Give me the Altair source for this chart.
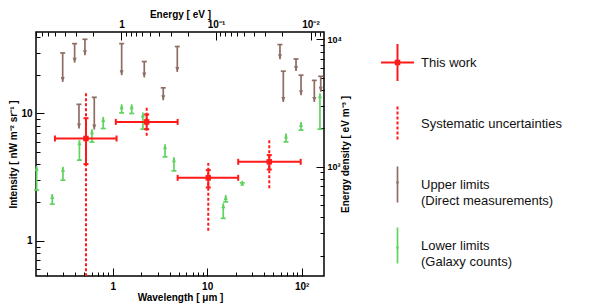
import json
import altair as alt
import pandas as pd

FONT = "Liberation Sans"
HC_EV_UM = 1.23984      # E[eV] * lambda[um]
U_PER_I = 261.62        # eV m^-3 per nW m^-2 sr^-1

RED = "#ff1a1a"
BROWN = "#8d6e63"
GREEN = "#5fd35f"

# ---------------- data ----------------
# This work
tw_wl = [0.522, 2.29, 10.27, 45.4]
tw_wl_lo = [0.245, 1.08, 4.87, 21.3]
tw_wl_hi = [1.10, 4.87, 21.3, 97.6]
tw_i = [6.36, 8.59, 3.12, 4.17]
tw_stat_lo = [4.0, 7.53, 2.62, 3.63]
tw_stat_hi = [9.18, 9.82, 3.59, 4.71]
tw_sys_lo = [0.4, 6.67, 1.20, 2.58]
tw_sys_hi = [14.4, 11.27, 4.09, 6.17]

# Upper limits (direct measurements)
ul_wl = [0.296, 0.396, 0.509, 1.245, 2.16, 3.43, 4.83, 0.440, 0.639,
         58.9, 63.9, 87.1, 98.4, 136, 159]
ul_val = [29.9, 35.4, 38.3, 35.4, 25.6, 15.9, 33.6, 11.8, 13.4,
          34.8, 21.5, 26.8, 20.0, 18.2, 19.6]
ul_tip = [17.7, 25.1, 28.7, 20.0, 19.2, 12.7, 21.2, 7.62, 7.48,
          26.7, 12.3, 21.6, 13.9, 12.3, 14.8]

# Lower limits (galaxy counts)
ll_wl = [1.245, 1.59, 2.09, 0.795, 0.604, 0.445, 0.157, 0.2296, 0.298,
         3.58, 4.45, 14.8, 15.7, 23.5, 68.2, 98.4, 156]
ll_val = [10.1, 10.0, 7.53, 7.62, 5.96, 4.3, 2.5, 1.94, 2.99,
          4.56, 3.54, 1.5, 2.02, 2.85, 5.98, 7.4, 7.53]
ll_tip = [11.8, 11.8, 10.2, 9.4, 7.53, 6.17, 3.86, 2.33, 3.81,
          5.74, 4.52, 1.97, 2.29, 2.96, 6.97, 8.59, 14.4]

# axes
x_domain = [0.1545, 172.2]
y_domain = [0.528, 43.7]
x_major = [1, 10, 100]
x_major_labels = ["1", "10", "10²"]
x_minor = [0.2, 0.3, 0.4, 0.5, 0.6, 0.7, 0.8, 0.9,
           2, 3, 4, 5, 6, 7, 8, 9, 20, 30, 40, 50, 60, 70, 80, 90]
e_major = [1, 0.1, 0.01]
e_major_labels = ["1", "10⁻¹", "10⁻²"]
e_minor = [8, 7, 6, 5, 4, 3, 2, 0.9, 0.8, 0.7, 0.6, 0.5, 0.4, 0.3, 0.2,
           0.09, 0.08, 0.07, 0.06, 0.05, 0.04, 0.03, 0.02, 0.009, 0.008]
y_major = [1, 10]
y_major_labels = ["1", "10"]
y_minor = [0.6, 0.7, 0.8, 0.9, 2, 3, 4, 5, 6, 7, 8, 9, 20, 30, 40]
u_major = [1000, 10000]
u_major_labels = ["10³", "10⁴"]
u_minor = [200, 300, 400, 500, 600, 700, 800, 900,
           2000, 3000, 4000, 5000, 6000, 7000, 8000, 9000]

legend_labels = ["This work", "Systematic uncertainties",
                 "Upper limits\n(Direct measurements)",
                 "Lower limits\n(Galaxy counts)"]

# ---------------- frames ----------------
tw = pd.DataFrame(dict(wl=tw_wl, lo=tw_wl_lo, hi=tw_wl_hi, i=tw_i,
                       slo=tw_stat_lo, shi=tw_stat_hi,
                       ylo=tw_sys_lo, yhi=tw_sys_hi))
ul = pd.DataFrame(dict(wl=ul_wl, val=ul_val, tip=ul_tip))
ll = pd.DataFrame(dict(wl=ll_wl, val=ll_val, tip=ll_tip))

xs = alt.Scale(type="log", domain=x_domain, nice=False)
ys = alt.Scale(type="log", domain=y_domain, nice=False)

e_major_wl = [HC_EV_UM / e for e in e_major]
e_minor_wl = [HC_EV_UM / e for e in e_minor]
u_major_i = [u / U_PER_I for u in u_major]
u_minor_i = [u / U_PER_I for u in u_minor]


def lab_expr(vals, labels):
    return (json.dumps(labels, ensure_ascii=False) + "[indexof("
            + json.dumps(vals) + ", datum.value)]")


common = dict(domain=False, grid=False, tickColor="black", tickWidth=1,
              labelColor="black", labelFont=FONT,
              labelFontWeight="bold", titleFont=FONT, titleFontSize=10,
              titleFontWeight="bold", titleColor="black")


def major(orient, vals, labels, title, lp, tp, lfs=10, **kw):
    return alt.Axis(orient=orient, values=vals, labelExpr=lab_expr(vals, labels),
                    tickSize=8, offset=-8, labelPadding=lp, title=title,
                    titlePadding=tp, labelFontSize=lfs, **common, **kw)


def minor(orient, vals):
    return alt.Axis(orient=orient, values=vals, labels=False, tickSize=4,
                    offset=-4, title=None, labelFontSize=10, **common)


def axis_layer(xa, ya):
    return alt.Chart(tw).mark_point(opacity=0).encode(
        x=alt.X("wl:Q", scale=xs, axis=xa),
        y=alt.Y("i:Q", scale=ys, axis=ya))


ax1 = axis_layer(
    major("bottom", x_major, x_major_labels, "Wavelength  [ μm ]", 5, 1),
    major("left", y_major, y_major_labels, "Intensity  [ nW m⁻² sr⁻¹ ]", 4, 2))
ax2 = axis_layer(minor("bottom", x_minor), minor("left", y_minor))
ax3 = axis_layer(
    major("top", e_major_wl, e_major_labels, "Energy [ eV ]", 3, 0),
    major("right", u_major_i, u_major_labels, "Energy density  [ eV m⁻³ ]", 3, 9,
          lfs=9, titleAngle=270))
ax4 = axis_layer(minor("top", e_minor_wl), minor("right", u_minor_i))


def X(f):
    return alt.X(f"{f}:Q", scale=xs, axis=None)


def Y(f):
    return alt.Y(f"{f}:Q", scale=ys, axis=None)


# upper limits
ul_rule = alt.Chart(ul).mark_rule(color=BROWN, strokeWidth=1.7).encode(
    x=X("wl"), y=Y("val"), y2="tip")
ul_cap = alt.Chart(ul).mark_point(shape="stroke", size=25, color=BROWN,
                                  strokeWidth=1.7, opacity=1).encode(x=X("wl"), y=Y("val"))
ul_head = alt.Chart(ul).mark_point(shape="M-1,-2.5L1,-2.5L0,0Z", size=16, filled=True,
                                   color=BROWN, opacity=1).encode(x=X("wl"), y=Y("tip"))

# lower limits
ll_rule = alt.Chart(ll).mark_rule(color=GREEN, strokeWidth=1.7).encode(
    x=X("wl"), y=Y("val"), y2="tip")
ll_cap = alt.Chart(ll).mark_point(shape="stroke", size=25, color=GREEN,
                                  strokeWidth=1.7, opacity=1).encode(x=X("wl"), y=Y("val"))
ll_head = alt.Chart(ll).mark_point(shape="M-1,2.5L1,2.5L0,0Z", size=16, filled=True,
                                   color=GREEN, opacity=1).encode(x=X("wl"), y=Y("tip"))

# this work
tw_sys = alt.Chart(tw).mark_rule(color=RED, strokeWidth=2, strokeDash=[3, 2],
                                 clip=True).encode(x=X("wl"), y=Y("ylo"), y2="yhi")
tw_stat = alt.Chart(tw).mark_rule(color=RED, strokeWidth=2).encode(
    x=X("wl"), y=Y("slo"), y2="shi")
tw_h = alt.Chart(tw).mark_rule(color=RED, strokeWidth=2).encode(
    x=X("lo"), x2="hi", y=Y("i"))
vcap = dict(shape="M0,-1L0,1", size=36, color=RED, strokeWidth=2, opacity=1)
hcap = dict(shape="stroke", size=25, color=RED, strokeWidth=2, opacity=1)
tw_c1 = alt.Chart(tw).mark_point(**vcap).encode(x=X("lo"), y=Y("i"))
tw_c2 = alt.Chart(tw).mark_point(**vcap).encode(x=X("hi"), y=Y("i"))
tw_c3 = alt.Chart(tw).mark_point(**hcap).encode(x=X("wl"), y=Y("slo"))
tw_c4 = alt.Chart(tw).mark_point(**hcap).encode(x=X("wl"), y=Y("shi"))
tw_sq = alt.Chart(tw).mark_square(size=30, color=RED, opacity=1).encode(x=X("wl"), y=Y("i"))

main = alt.layer(
    ax1, ax2, ax3, ax4,
    ul_rule, ul_cap, ul_head,
    ll_rule, ll_cap, ll_head,
    tw_sys, tw_stat, tw_h, tw_c1, tw_c2, tw_c3, tw_c4, tw_sq,
).resolve_axis(x="independent", y="independent").properties(
    width=288, height=244,
    view=alt.ViewBackground(stroke="black", strokeWidth=1.5))

# ---------------- legend ----------------
leg = pd.DataFrame(dict(label=legend_labels, idx=list(range(len(legend_labels)))))
ly = alt.Y("idx:Q", scale=alt.Scale(domain=[-0.5, 3.5], reverse=True), axis=None)
base = alt.Chart(leg)
SX = 22.5


def sel(k):
    return base.transform_filter(f"datum.idx == {k}")


l1 = sel(0).mark_rule(color=RED, strokeWidth=2).encode(
    x=alt.value(6), x2=alt.value(39), y=ly)
l2 = sel(0).mark_rule(color=RED, strokeWidth=2, yOffset=-18.5, y2Offset=18.5).encode(
    x=alt.value(SX), y=ly, y2="idx:Q")
l3 = sel(0).mark_square(size=30, color=RED, opacity=1).encode(x=alt.value(SX), y=ly)
l4 = sel(1).mark_rule(color=RED, strokeWidth=2, strokeDash=[3, 2],
                      yOffset=-17, y2Offset=17).encode(x=alt.value(SX), y=ly, y2="idx:Q")
l5 = sel(2).mark_rule(color=BROWN, strokeWidth=1.7, yOffset=-18, y2Offset=18).encode(
    x=alt.value(SX), y=ly, y2="idx:Q")
l6 = sel(2).mark_point(shape="M-1,-2.5L1,-2.5L0,0Z", size=10, filled=True, color=BROWN,
                       opacity=1, yOffset=1).encode(x=alt.value(SX), y=ly)
l7 = sel(3).mark_rule(color=GREEN, strokeWidth=1.7, yOffset=-18, y2Offset=18).encode(
    x=alt.value(SX), y=ly, y2="idx:Q")
l8 = sel(3).mark_point(shape="M-1,2.5L1,2.5L0,0Z", size=10, filled=True, color=GREEN,
                       opacity=1, yOffset=-1).encode(x=alt.value(SX), y=ly)
l9 = base.mark_text(align="left", baseline="middle", font=FONT, fontSize=13,
                    lineBreak="\n", lineHeight=16, color="#111").encode(
    x=alt.value(46), y=ly, text="label:N")

legend = alt.layer(l1, l2, l3, l4, l5, l6, l7, l8, l9).properties(
    width=190, height=244, view=alt.ViewBackground(stroke="transparent"))

chart = alt.hconcat(main, legend, spacing=22).properties(
    padding=0, background="white").configure(font=FONT)

chart.save("out.html", embed_options={"renderer": "svg", "actions": False})
